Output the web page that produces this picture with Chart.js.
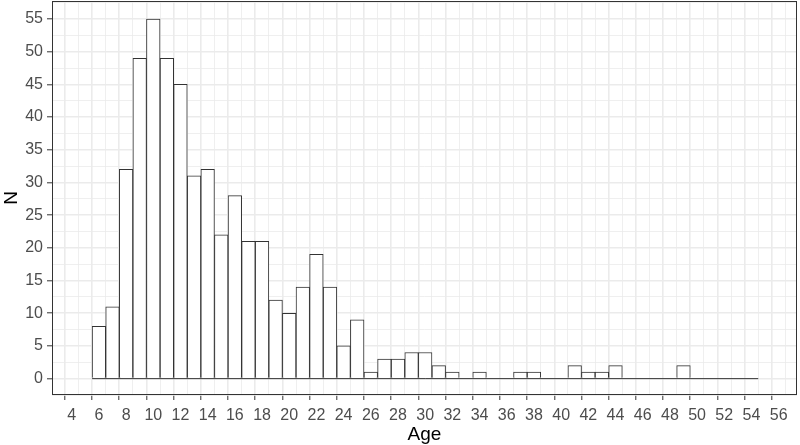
<!DOCTYPE html>
<html>
<head>
<meta charset="utf-8">
<script src="https://cdn.jsdelivr.net/npm/chart.js@4"></script>
<style>
  body { margin: 0; background: #fff; }
  #wrap { width: 800px; height: 445px; position: relative; }
</style>
</head>
<body>
<div id="wrap"><canvas id="hist"></canvas></div>
<script>
// Data: age bins (centre of each 1-year bin) and counts
const ages = [6, 7, 8, 9, 10, 11, 12, 13, 14, 15, 16, 17, 18, 19, 20, 21, 22, 23, 24, 25,
              26, 27, 28, 29, 30, 31, 32, 33, 34, 35, 36, 37, 38, 39, 40, 41, 42, 43, 44, 45,
              46, 47, 48, 49, 50, 51, 52, 53, 54];
const counts = [8, 11, 32, 49, 55, 49, 45, 31, 32, 22, 28, 21, 21, 12, 10, 14, 19, 14, 5, 9,
                1, 3, 3, 4, 4, 2, 1, 0, 1, 0, 0, 1, 1, 0, 0, 2, 1, 1, 2, 0,
                0, 0, 0, 2, 0, 0, 0, 0, 0];
const binEdges = [5.5, 54.5];

// Styles
const gridColor = "#EBEBEB";
const panelColor = "#333333";
const tickTextColor = "#4D4D4D";
const fontFamily = "'Liberation Sans', Arial, sans-serif";

// Draw the panel border on all four sides (ggplot theme_bw look)
const panelBorder = {
    id: "panelBorder",
    afterDraw(chart) {
        const a = chart.chartArea;
        const ctx = chart.ctx;
        ctx.save();
        ctx.strokeStyle = panelColor;
        ctx.lineWidth = 1;
        ctx.strokeRect(a.left + 0.5, a.top + 0.5, a.right - a.left - 1, a.bottom - a.top - 1);
        ctx.restore();
    }
};

const barData = ages.map((a, i) => ({ x: a, y: counts[i] }));
const baseData = binEdges.map(x => ({ x: x, y: 0 }));

new Chart(document.getElementById("hist"), {
    type: "bar",
    data: {
        datasets: [
            {
                type: "line",
                data: baseData,
                borderColor: "#333333",
                borderWidth: 1,
                pointRadius: 0,
                order: 0
            },
            {
                data: barData,
                backgroundColor: "#FFFFFF",
                borderColor: "#333333",
                borderWidth: 1,
                borderSkipped: "start",
                barPercentage: 1,
                categoryPercentage: 1,
                order: 1
            }
        ]
    },
    options: {
        responsive: true,
        maintainAspectRatio: false,
        animation: false,
        layout: { padding: { top: 1, right: 3, left: 0, bottom: 0 } },
        plugins: {
            legend: { display: false },
            tooltip: { enabled: false }
        },
        scales: {
            x: {
                type: "linear",
                min: 2.55,
                max: 57.35,
                offset: false,
                border: { display: false },
                grid: {
                    color: gridColor,
                    lineWidth: c => (c.tick && c.tick.value % 2 === 0) ? 1.6 : 0.8,
                    tickColor: c => (c.tick && c.tick.value % 2 === 0) ? panelColor : "rgba(0,0,0,0)",
                    tickLength: 5,
                    tickWidth: 1
                },
                ticks: {
                    stepSize: 1,
                    includeBounds: false,
                    autoSkip: false,
                    maxRotation: 0,
                    padding: 6,
                    color: tickTextColor,
                    font: { family: fontFamily, size: 16 },
                    callback: v => (v % 2 === 0 ? String(v) : "")
                },
                title: {
                    display: true,
                    text: "Age",
                    color: "#000000",
                    font: { family: fontFamily, size: 19 },
                    padding: { top: 0, bottom: -1 }
                },
                afterFit: s => {
                    s.height = 50;
                    s.paddingLeft = 0;
                    s.paddingRight = 0;
                }
            },
            y: {
                min: -2.5,
                max: 57.75,
                border: { display: false },
                grid: {
                    color: gridColor,
                    lineWidth: c => (c.tick && c.tick.value % 5 === 0) ? 1.6 : 0.8,
                    tickColor: c => (c.tick && c.tick.value % 5 === 0) ? panelColor : "rgba(0,0,0,0)",
                    tickLength: 5,
                    tickWidth: 1
                },
                ticks: {
                    stepSize: 2.5,
                    includeBounds: false,
                    autoSkip: false,
                    padding: 4,
                    color: tickTextColor,
                    font: { family: fontFamily, size: 16 },
                    callback: v => (v % 5 === 0 ? String(v) : "")
                },
                title: {
                    display: true,
                    text: "N",
                    color: "#000000",
                    font: { family: fontFamily, size: 19 },
                    padding: { top: 0, bottom: 0 }
                },
                afterFit: s => {
                    s.width = 52;
                    s.paddingTop = 0;
                    s.paddingBottom = 0;
                }
            }
        }
    },
    plugins: [panelBorder]
});
</script>
</body>
</html>
